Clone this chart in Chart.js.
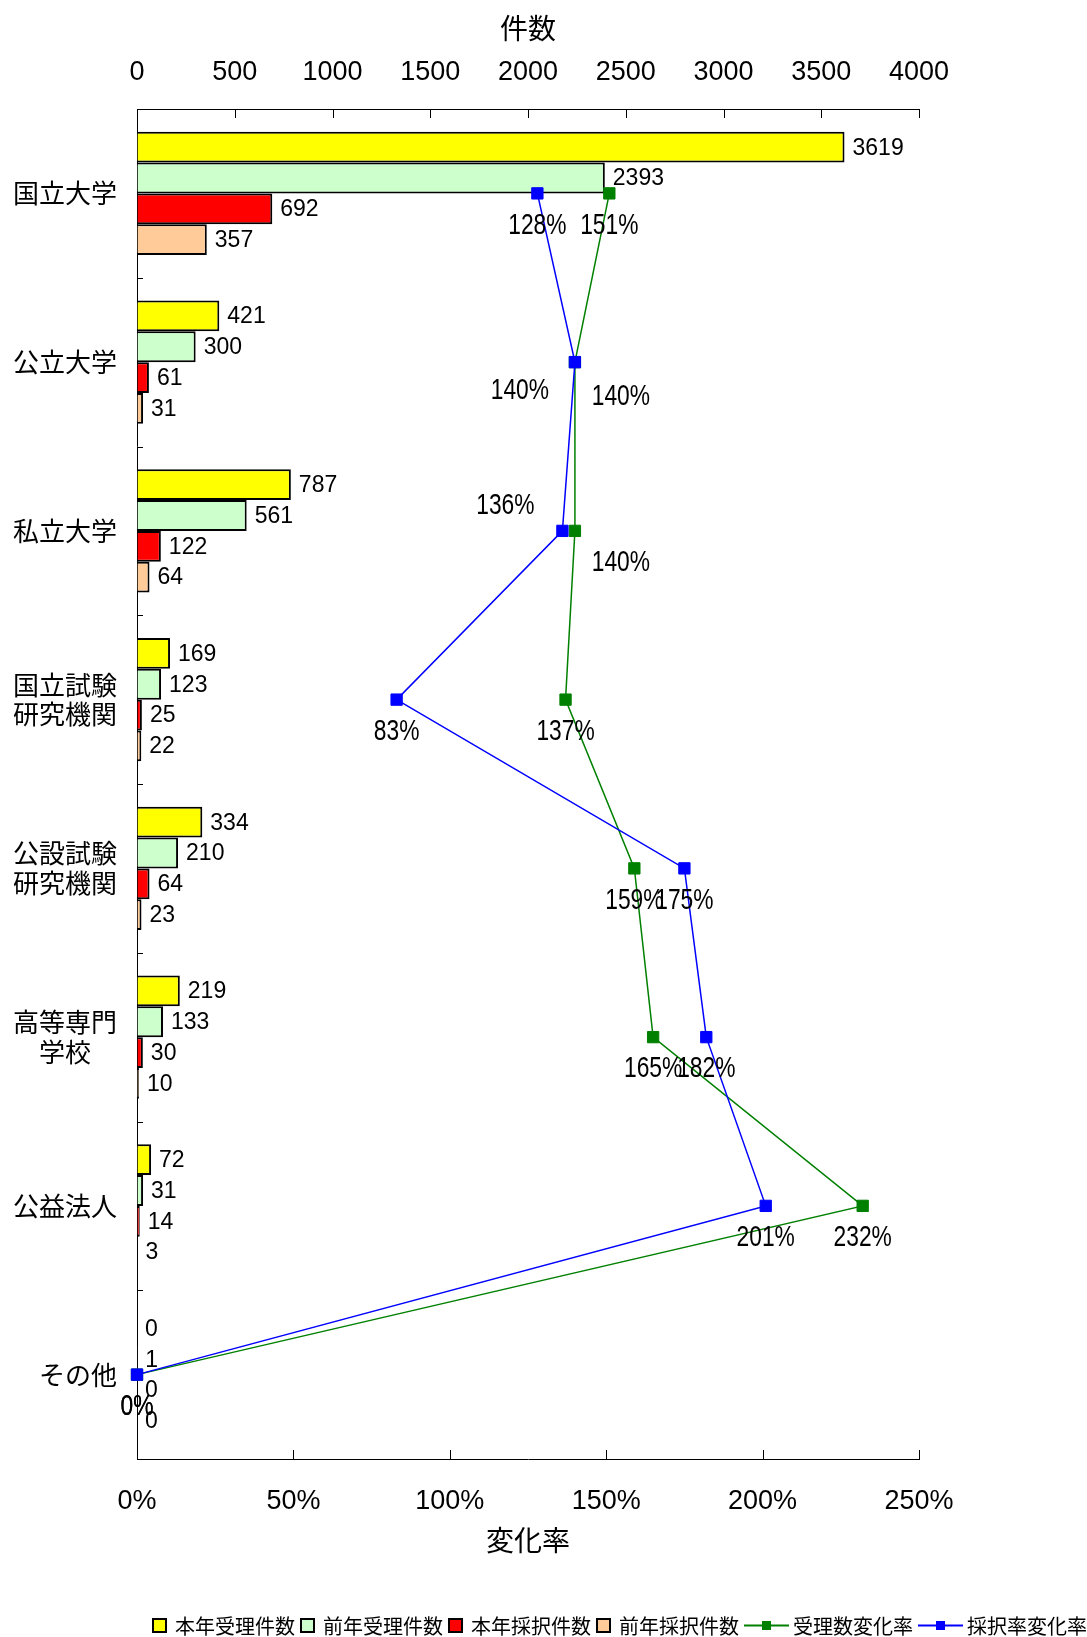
<!DOCTYPE html>
<html lang="ja">
<head>
<meta charset="utf-8">
<title>件数と変化率</title>
<script src="https://cdn.jsdelivr.net/npm/chart.js@4.4.1/dist/chart.umd.min.js"></script>
<style>
  html, body { margin: 0; padding: 0; background: #fff; }
  #chart { display: block; }
</style>
</head>
<body>
<canvas id="chart" width="1087" height="1637"></canvas>
<script>
// 機関種別ごとの件数
const categories = ['国立大学', '公立大学', '私立大学', ['国立試験', '研究機関'], ['公設試験', '研究機関'], ['高等専門', '学校　'], '公益法人', 'その他'];

const thisYearApplied = [3619, 421, 787, 169, 334, 219, 72, 0];
const lastYearApplied = [2393, 300, 561, 123, 210, 133, 31, 1];
const thisYearAdopted = [692, 61, 122, 25, 64, 30, 14, 0];
const lastYearAdopted = [357, 31, 64, 22, 23, 10, 3, 0];

// 変化率 (%)
const appliedChange = [151, 140, 140, 137, 159, 165, 232, 0];
const adoptionRateChange = [128, 140, 136, 83, 175, 182, 201, 0];

const countTicks = [0, 500, 1000, 1500, 2000, 2500, 3000, 3500, 4000];
const rateTicks = [0, 50, 100, 150, 200, 250];

const JP = '"Noto Sans CJK JP", sans-serif';
const NUM = '"Liberation Sans", Arial, sans-serif';

Chart.defaults.font.family = JP;
Chart.defaults.color = '#000';

// 棒の値と変化率のラベル
const valueLabels = {
    id: 'valueLabels',
    afterDatasetsDraw(chart, args, opts) {
        const ctx = chart.ctx;
        ctx.save();
        ctx.fillStyle = '#000';
        ctx.textBaseline = 'middle';
        chart.data.datasets.forEach((ds, i) => {
            const meta = chart.getDatasetMeta(i);
            meta.data.forEach((el, j) => {
                const v = ds.data[j];
                if (ds.type === 'line') {
                    const shift = (opts.shifts[ds.label] || {})[j] || [0, opts.below];
                    // 横幅を詰めた数字
                    ctx.save();
                    ctx.translate(el.x + shift[0], el.y + shift[1]);
                    ctx.scale(0.76, 1);
                    ctx.font = '30px ' + NUM;
                    ctx.textAlign = 'center';
                    ctx.fillText(v + '%', 0, 0);
                    ctx.restore();
                } else {
                    ctx.font = '23px ' + NUM;
                    ctx.textAlign = 'left';
                    ctx.fillText(String(v), el.x + 8, el.y + 1);
                }
            });
        });
        ctx.restore();
    }
};

// 内向きの目盛り線
const innerTicks = {
    id: 'innerTicks',
    afterDraw(chart) {
        const {ctx, chartArea: area, scales} = chart;
        ctx.save();
        ctx.strokeStyle = '#000';
        ctx.lineWidth = 1;
        ctx.beginPath();
        scales.x.ticks.forEach(t => {
            const px = Math.round(scales.x.getPixelForValue(t.value)) + 0.5;
            ctx.moveTo(px, area.top);
            ctx.lineTo(px, area.top + 9);
        });
        scales.x2.ticks.forEach(t => {
            const px = Math.round(scales.x2.getPixelForValue(t.value)) + 0.5;
            ctx.moveTo(px, area.bottom);
            ctx.lineTo(px, area.bottom - 9);
        });
        for (let i = 1; i < categories.length; i++) {
            const py = Math.round((scales.y.getPixelForValue(i - 1) + scales.y.getPixelForValue(i)) / 2) + 0.5;
            ctx.moveTo(area.left, py);
            ctx.lineTo(area.left + 6, py);
        }
        ctx.stroke();
        ctx.restore();
    }
};

// 下部の凡例
const bottomLegend = {
    id: 'bottomLegend',
    afterDraw(chart, args, opts) {
        const ctx = chart.ctx;
        ctx.save();
        ctx.font = '20px ' + JP;
        ctx.textBaseline = 'middle';
        ctx.textAlign = 'left';
        let x = opts.x;
        const y = opts.y;
        chart.data.datasets.forEach(ds => {
            if (ds.type === 'line') {
                ctx.strokeStyle = ds.borderColor;
                ctx.lineWidth = 2;
                ctx.beginPath();
                ctx.moveTo(x, y + 0.5);
                ctx.lineTo(x + 45, y + 0.5);
                ctx.stroke();
                ctx.fillStyle = ds.borderColor;
                ctx.fillRect(x + 18, y - 4, 9, 9);
                x += 49;
            } else {
                ctx.fillStyle = ds.backgroundColor;
                ctx.fillRect(x, y - 7, 15, 15);
                ctx.strokeStyle = '#000';
                ctx.lineWidth = 2;
                ctx.strokeRect(x + 1, y - 6, 13, 13);
                x += 23;
            }
            ctx.fillStyle = '#000';
            ctx.fillText(ds.label, x, y + 1);
            x += ctx.measureText(ds.label).width + 5;
        });
        ctx.restore();
    }
};

const barDefaults = {
    type: 'bar',
    xAxisID: 'x',
    yAxisID: 'y',
    borderColor: '#000',
    borderWidth: 2,
    categoryPercentage: 0.73,
    barPercentage: 1.0,
    order: 2
};

const lineDefaults = {
    type: 'line',
    indexAxis: 'y',
    xAxisID: 'x2',
    yAxisID: 'y',
    borderWidth: 1.5,
    pointStyle: 'rect',
    pointRadius: 8,
    pointBorderWidth: 1,
    tension: 0,
    fill: false,
    clip: false
};

new Chart(document.getElementById('chart'), {
    type: 'bar',
    data: {
        labels: categories,
        datasets: [
            {...barDefaults, label: '本年受理件数', data: thisYearApplied, backgroundColor: '#ffff00'},
            {...barDefaults, label: '前年受理件数', data: lastYearApplied, backgroundColor: '#ccffcc'},
            {...barDefaults, label: '本年採択件数', data: thisYearAdopted, backgroundColor: '#ff0000'},
            {...barDefaults, label: '前年採択件数', data: lastYearAdopted, backgroundColor: '#ffcc99'},
            {...lineDefaults, label: '受理数変化率', data: appliedChange, borderColor: '#008000', backgroundColor: '#008000', order: 1},
            {...lineDefaults, label: '採択率変化率', data: adoptionRateChange, borderColor: '#0000ff', backgroundColor: '#0000ff', order: 0}
        ]
    },
    options: {
        indexAxis: 'y',
        responsive: false,
        animation: false,
        devicePixelRatio: 1,
        layout: {padding: {left: 0, right: 168, top: 0, bottom: 0}},
        plugins: {
            legend: {display: false},
            tooltip: {enabled: false},
            valueLabels: {
                below: 32,
                shifts: {
                    '受理数変化率': {1: [46, 35], 2: [46, 32]},
                    '採択率変化率': {1: [-55, 29], 2: [-57, -25]}
                }
            },
            bottomLegend: {x: 152, y: 1625}
        },
        scales: {
            x: {
                axis: 'x',
                type: 'linear',
                position: 'top',
                min: 0,
                max: 4000,
                afterBuildTicks: s => { s.ticks = countTicks.map(v => ({value: v})); },
                afterFit: s => { s.height = 109; },
                grid: {display: true, drawOnChartArea: false, drawTicks: false},
                border: {display: true, color: '#000', width: 1},
                ticks: {
                    padding: 20,
                    maxRotation: 0,
                    autoSkip: false,
                    font: {family: NUM, size: 27},
                    callback: v => String(v)
                },
                title: {display: true, text: '件数', font: {family: JP, size: 28}, padding: {top: 12, bottom: 0}}
            },
            x2: {
                axis: 'x',
                type: 'linear',
                position: 'bottom',
                min: 0,
                max: 250,
                afterBuildTicks: s => { s.ticks = rateTicks.map(v => ({value: v})); },
                afterFit: s => { s.height = 178; },
                grid: {display: true, drawOnChartArea: false, drawTicks: false},
                border: {display: true, color: '#000', width: 1},
                ticks: {
                    padding: 26,
                    maxRotation: 0,
                    autoSkip: false,
                    font: {family: NUM, size: 27},
                    callback: v => v + '%'
                },
                title: {display: true, text: '変化率', font: {family: JP, size: 28}, padding: {top: 0, bottom: 80}}
            },
            y: {
                type: 'category',
                position: 'left',
                offset: true,
                afterFit: s => { s.width = 137; },
                grid: {display: true, drawOnChartArea: false, drawTicks: false},
                border: {display: true, color: '#000', width: 1},
                ticks: {
                    padding: 20,
                    autoSkip: false,
                    font: {family: JP, size: 26, lineHeight: 1.15}
                }
            }
        }
    },
    plugins: [valueLabels, innerTicks, bottomLegend]
});
</script>
</body>
</html>
